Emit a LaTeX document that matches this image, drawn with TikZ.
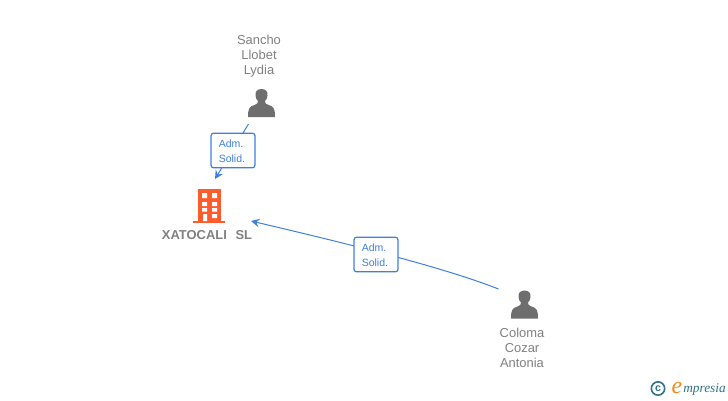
\documentclass[tikz,border=0pt]{standalone}
\usepackage{fontspec}
\setmainfont{Liberation Sans}
\newfontfamily\logofont{Liberation Serif}
\usetikzlibrary{arrows.meta}
\definecolor{linkblue}{HTML}{3F7FDE}
\definecolor{greytext}{HTML}{808080}
\definecolor{icongrey}{HTML}{6E6E6E}
\definecolor{bldorange}{HTML}{FF5C2E}
\definecolor{logoteal}{HTML}{2F7289}
\definecolor{logoorange}{HTML}{F08A1D}
\tikzset{
  px/.style={x=0.75pt,y=-0.75pt},
  personlabel/.style={font=\fontsize{9.7}{11.25}\selectfont,text=greytext,align=center,inner sep=0pt},
  rolebox/.style={draw=linkblue,line width=0.9pt,rounded corners=2pt,fill=white,minimum width=33pt,minimum height=26pt,inner sep=0pt,text=linkblue,font=\fontsize{7.9}{11}\selectfont},
  roletext/.style={inner sep=0pt,anchor=west,text=linkblue,font=\fontsize{7.9}{11}\selectfont,align=left},
  link/.style={draw=linkblue,line width=0.75pt},
  arrowlink/.style={link,-{Stealth[length=6.5pt,width=6.5pt,inset=2.5pt]}},
  personicon/.pic={
    \fill[icongrey] (0,-14) .. controls (-4.5,-14) and (-6.5,-11) .. (-6,-7.5)
      .. controls (-5.8,-5) and (-5,-3.5) .. (-3.5,-2)
      .. controls (-3.5,0) and (-4,1) .. (-7,2)
      .. controls (-12,3.5) and (-13.5,5) .. (-13.5,14)
      -- (13.5,14)
      .. controls (13.5,5) and (12,3.5) .. (7,2)
      .. controls (4,1) and (3.5,0) .. (3.5,-2)
      .. controls (5,-3.5) and (5.8,-5) .. (6,-7.5)
      .. controls (6.5,-11) and (4.5,-14) .. (0,-14) -- cycle;
  },
}
\begin{document}
\begin{tikzpicture}[px]
\useasboundingbox (0,0) rectangle (728,400);
% people
\pic at (261.5,103) {personicon};
\pic at (524.5,304.5) {personicon};
\node[personlabel] (sancho) at (259,56.5) {Sancho\\Llobet\\Lydia};
\node[personlabel] (coloma) at (522,347.5) {Coloma\\Cozar\\Antonia};
% company
\node[inner sep=0pt,minimum width=32pt,minimum height=26pt] (company) at (209,206) {};
\fill[bldorange] (198,189) rectangle (221,221);
\fill[bldorange] (193,221) rectangle (225,223);
\fill[white]
  (202,193) rectangle (207,198) (212,193) rectangle (217,198)
  (202,202) rectangle (207,206) (212,202) rectangle (217,206)
  (202,208) rectangle (207,211.5) (212,208) rectangle (217,211.5)
  (203,214) rectangle (207,221) (212,214) rectangle (217,218);
\node[inner sep=0pt,font=\fontsize{9.7}{10}\bfseries\selectfont,text=greytext] (xato) at (207,235.5) {XATOCALI\hspace{6.5pt}SL};
% connectors
\coordinate (s1) at (248.5,124);
\coordinate (e1) at (215,179);
\coordinate (s2) at (498.5,289);
\coordinate (e2) at (251,221);
\draw[arrowlink] (s1) -- (e1);
\draw[arrowlink] (s2) .. controls (440,266) and (340,242) .. (e2);
% role labels
\node[rolebox] (r1) at (233,150.5) {};
\node[roletext] (t1) at (218.5,151) {Adm.\\Solid.};
\node[rolebox] (r2) at (376,254.5) {};
\node[roletext] (t2) at (361.5,255) {Adm.\\Solid.};
% logo
\node[draw=logoteal,line width=1.2pt,circle,minimum size=10pt,inner sep=0pt,text=logoteal,font=\fontsize{8}{8}\bfseries\selectfont] (copy) at (658,388.5) {c};
\node[inner sep=0pt,text=logoorange,font=\logofont\itshape\fontsize{18}{18}\selectfont] (elogo) at (677,387.5) {e};
\node[inner sep=0pt,anchor=west,text=logoteal,font=\logofont\itshape\fontsize{10}{10}\selectfont] (mpresia) at (683,389) {mpresia};
\end{tikzpicture}
\end{document}
